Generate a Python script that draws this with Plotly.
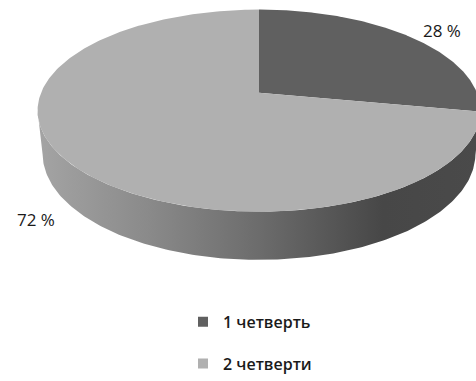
import numpy as np
import plotly.graph_objects as go

# ---- data ----
categories = ['1 четверть', '2 четверти']
shares = [28, 72]
top_colors = ['#606060', '#b0b0b0']
label_text = [f'{v} %' for v in shares]

# ---- 3D-pie projection parameters (style/geometry) ----
S, C = 0.47, 0.883          # sin/cos of viewing elevation
D = 4.97                    # camera distance
F = 1083.0                  # focal scale (px)
H = 0.236                   # pie thickness
CX, CY = 259.0, 97.0        # screen position of pie centre


def proj(theta_deg, r=1.0, z=0.0):
    t = np.radians(theta_deg)
    X = r * np.sin(t)
    Y = r * np.cos(t)
    depth = D + Y * C - z * S
    w = Y * S + z * C
    return CX + F * X / depth, CY - F * w / depth


# front (visible side) angular range, clockwise from 12 o'clock
th_front = np.degrees(np.arccos(-C / D))
front_lo, front_hi = th_front, 360 - th_front

fig = go.Figure()

bounds = np.concatenate([[0], np.cumsum(shares)]) * 360.0 / sum(shares)

# sides
for i in range(len(shares)):
    a0, a1 = bounds[i], bounds[i + 1]
    lo, hi = max(a0, front_lo), min(a1, front_hi)
    if hi <= lo:
        continue
    th = np.linspace(lo, hi, 200)
    xt, yt = proj(th, 1.0, 0.0)
    xb, yb = proj(th[::-1], 1.0, -H)
    xs = np.concatenate([xt, xb, xt[:1]])
    ys = np.concatenate([yt, yb, yt[:1]])
    fig.add_trace(go.Scatter(
        x=xs, y=ys, mode='lines', fill='toself', line=dict(width=0),
        fillgradient=dict(type='horizontal', colorscale=[
            [0, '#a4a4a4'], [0.25, '#8a8a8a'], [0.5, '#6c6c6c'],
            [0.78, '#474747'], [1, '#4a4a4a']]),
        hoverinfo='skip', showlegend=False))

# tops
for i in range(len(shares)):
    a0, a1 = bounds[i], bounds[i + 1]
    th = np.linspace(a0, a1, 300)
    xa, ya = proj(th)
    xs = np.concatenate([[CX], xa, [CX]])
    ys = np.concatenate([[CY], ya, [CY]])
    fig.add_trace(go.Scatter(
        x=xs, y=ys, mode='lines', fill='toself', line=dict(width=0),
        fillcolor=top_colors[i], hoverinfo='skip', showlegend=False))

# legend entries
for i, name in enumerate(categories):
    fig.add_trace(go.Scatter(
        x=[None], y=[None], mode='markers', name=name, legendgroup=f'g{i}',
        marker=dict(symbol='square', size=10, color=top_colors[i])))

# data labels
label_pos = [(442, 32), (36, 230)]
for (px, py), txt in zip(label_pos, label_text):
    fig.add_annotation(x=px, y=py, text=txt, showarrow=False,
                       font=dict(family='Open Sans', size=17, color='#1a1a1a'))

fig.update_layout(
    width=476, height=381,
    margin=dict(l=0, r=0, t=0, b=0),
    paper_bgcolor='white', plot_bgcolor='white',
    xaxis=dict(range=[0, 476], visible=False, fixedrange=True),
    yaxis=dict(range=[381, 0], visible=False, fixedrange=True),
    showlegend=True,
    legend=dict(x=183 / 476, xanchor='left', y=1 - 319 / 381, yanchor='top',
                tracegroupgap=18, bgcolor='rgba(0,0,0,0)',
                font=dict(family='Open Sans', size=16, color='#1a1a1a', weight=600)),
)

fig.write_html('out.html')
